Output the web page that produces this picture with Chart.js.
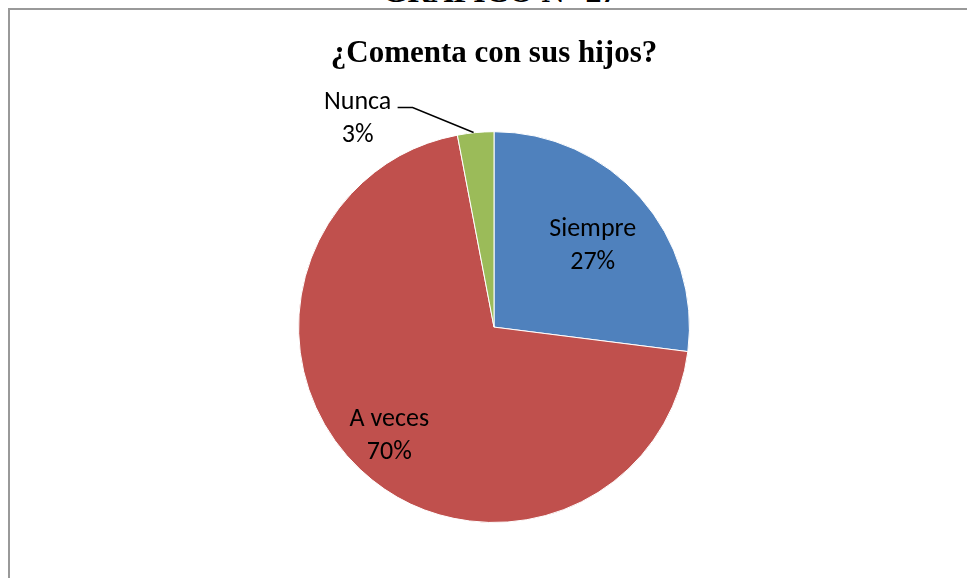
<!DOCTYPE html>
<html>
<head>
<meta charset="utf-8">
<script src="https://cdn.jsdelivr.net/npm/chart.js@4"></script>
<style>
    body { margin: 0; background: #fff; overflow: hidden; }
    #header {
        position: absolute; left: 0; width: 1000px; top: -25px;
        text-align: center; font: bold 32px/32px "Liberation Serif", serif; color: #000;
    }
    #frame {
        position: absolute; left: 8px; top: 8px; width: 1200px; height: 800px;
        border-left: 2px solid #999; border-top: 2px solid #999;
    }
    #wrap { position: absolute; left: 0; top: 0; width: 967px; height: 578px; }
</style>
</head>
<body>
<div id="header">GRÁFICO N° 27</div>
<div id="frame"></div>
<div id="wrap"><canvas id="chart"></canvas></div>
<script>
    var categories = ["Siempre", "A veces", "Nunca"];
    var percentages = [27, 70, 3];
    var sliceColors = ['#4F81BD', '#C0504D', '#9BBB59'];

    var labelFont = '26px Carlito, Calibri, "Open Sans", sans-serif';

    // where each label sits, as a fraction of the radius (outside ones get a leader line)
    var labelPos = [
        { r: 0.66, dx: 2, dy: 4 },
        { r: 0.76, dx: -3, dy: 0 },
        { r: 1.0, outside: true, dx: -118, dy: -14 }
    ];

    var pieLabels = {
        id: 'pieLabels',
        afterDatasetsDraw: function(chart) {
            var ctx = chart.ctx;
            var meta = chart.getDatasetMeta(0);
            ctx.save();
            ctx.font = labelFont;
            ctx.fillStyle = '#000';
            ctx.textAlign = 'center';
            ctx.textBaseline = 'middle';
            meta.data.forEach(function(arc, i) {
                var mid = (arc.startAngle + arc.endAngle) / 2;
                var p = labelPos[i];
                var x = arc.x + Math.cos(mid) * arc.outerRadius * p.r;
                var y = arc.y + Math.sin(mid) * arc.outerRadius * p.r;
                if (p.outside) {
                    var lx = x + p.dx, ly = y + p.dy;
                    ctx.beginPath();
                    ctx.strokeStyle = '#000';
                    ctx.lineWidth = 1.5;
                    ctx.moveTo(x - 2, y);
                    ctx.lineTo(lx + 55, ly - 11);
                    ctx.lineTo(lx + 40, ly - 11);
                    ctx.stroke();
                    x = lx; y = ly;
                } else {
                    x += p.dx; y += p.dy;
                }
                ctx.fillText(categories[i], x, y - 16);
                ctx.fillText(percentages[i] + '%', x, y + 17);
            });
            ctx.restore();
        }
    };

    var chartOptions = {
        type: 'pie',
        data: {
            labels: categories,
            datasets: [
                {
                    data: percentages,
                    backgroundColor: sliceColors,
                    borderColor: '#fff',
                    borderWidth: 1
                }
            ]
        },
        options: {
            responsive: true,
            maintainAspectRatio: false,
            animation: false,
            layout: {
                padding: { left: 298, right: 277, top: 35, bottom: 55 }
            },
            plugins: {
                legend: { display: false },
                tooltip: { enabled: false },
                title: {
                    display: true,
                    text: '¿Comenta con sus hijos?',
                    color: '#000',
                    font: { family: '"Liberation Serif", serif', size: 31, weight: 'bold', lineHeight: 1.2 },
                    padding: { top: 0, bottom: 59 }
                }
            }
        },
        plugins: [pieLabels]
    };

    var ctx = document.getElementById('chart').getContext('2d');
    var chart = new Chart(ctx, chartOptions);
</script>
</body>
</html>
